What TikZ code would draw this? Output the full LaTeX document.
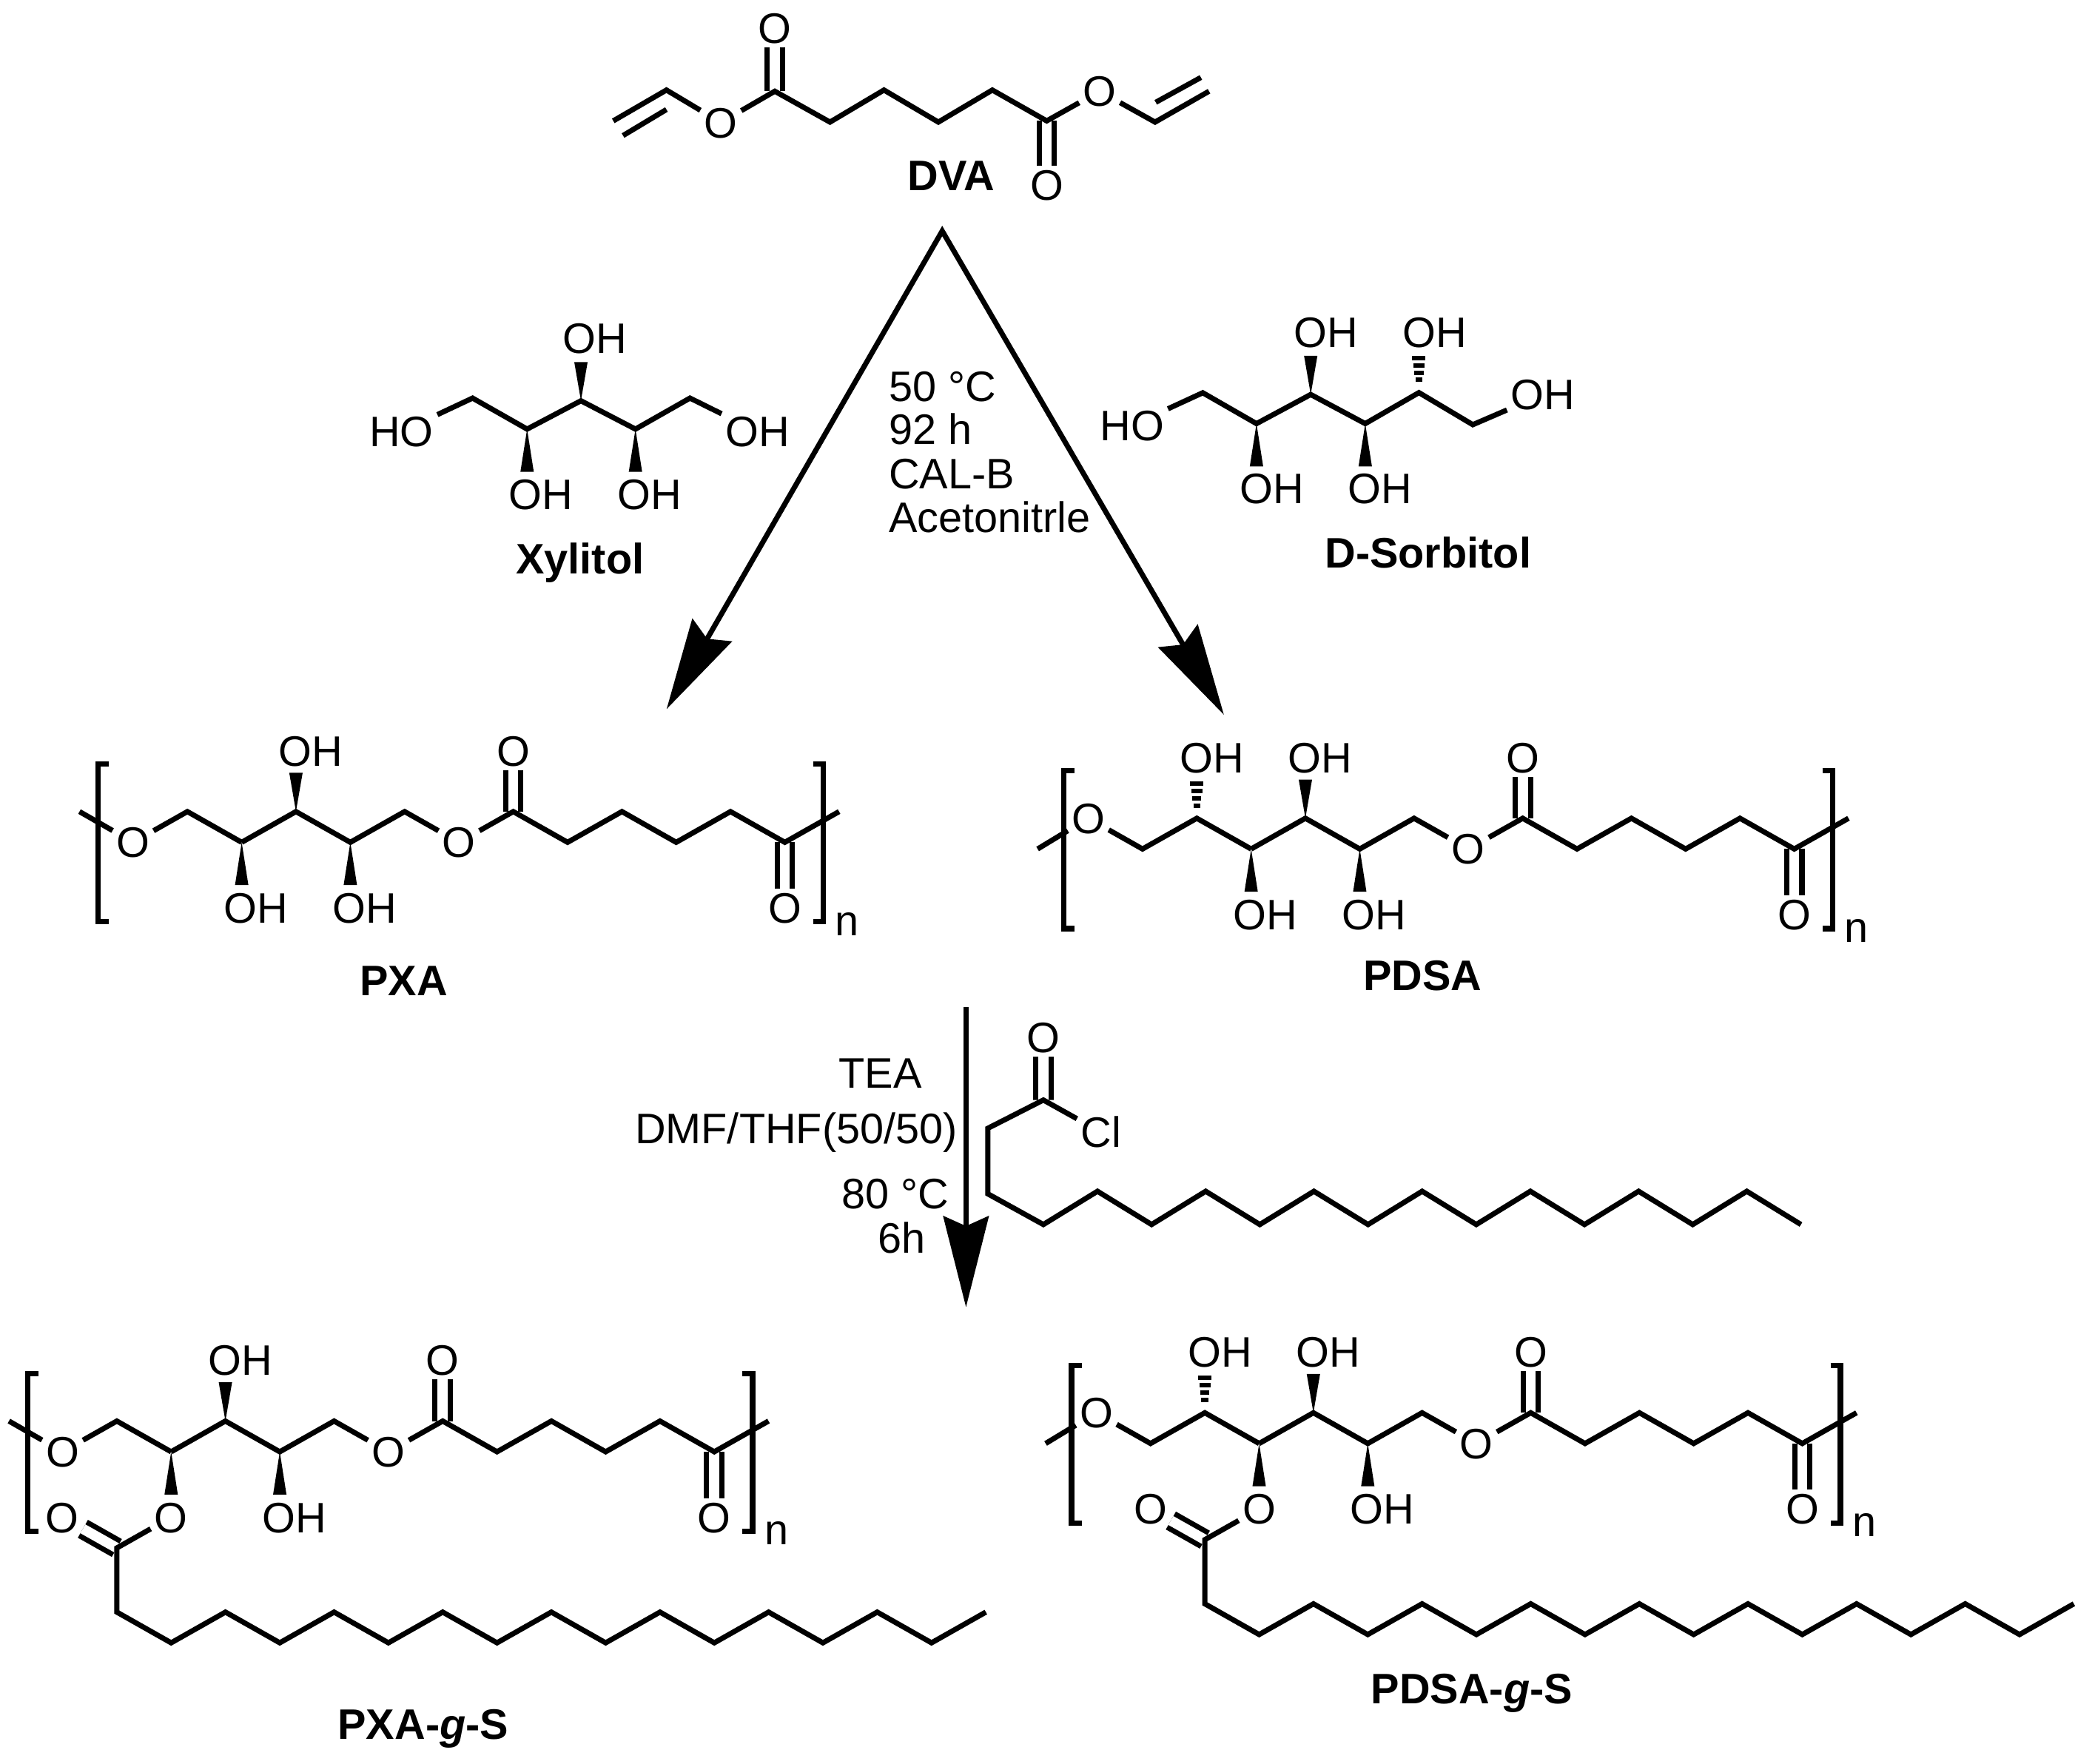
\documentclass[tikz,border=0pt]{standalone}
\usepackage{fontspec}
\setmainfont{Liberation Sans}
\usetikzlibrary{arrows.meta}
\tikzset{
  bond/.style={line width=2pt},
  dbl/.style={line width=2pt,double,double distance=3.9pt},
  brk/.style={line width=2.1pt},
  atom/.style={font=\fontsize{16.4}{18}\selectfont,inner sep=1.3pt,text height=11.7pt,text depth=0pt},
  txt/.style={font=\fontsize{16.4}{18}\selectfont,inner sep=0pt,text height=11.7pt,text depth=0pt},
  ttl/.style={font=\fontsize{16.4}{18}\selectfont\bfseries,inner sep=0pt,text height=11.7pt,text depth=0pt},
  sub/.style={font=\fontsize{16.4}{18}\selectfont,inner sep=0pt},
  rxn/.style={line width=2pt},
  bigtip/.tip={Stealth[length=35pt,width=17.4pt,inset=3.8pt]}
}
\newcommand{\wup}[1]{\fill (#1) -- ++(-5,-29) -- ++(10,0) -- cycle;}
\newcommand{\wdown}[1]{\fill (#1) -- ++(-5,32) -- ++(10,0) -- cycle;}
\newcommand{\hashup}[1]{%
  \draw[line width=1.7pt] (#1) ++(-2.6,-9.6) -- ++(5.2,0);
  \draw[line width=1.7pt] (#1) ++(-3.4,-15) -- ++(6.8,0);
  \draw[line width=1.7pt] (#1) ++(-4.2,-20.5) -- ++(8.4,0);
  \draw[line width=1.7pt] (#1) ++(-5,-26) -- ++(10,0);
}
% common part of a repeat unit, relative to the ester oxygen column
\newcommand{\backbone}{%
  \coordinate (ca) at (-162.6,23);
  \coordinate (cb) at (-122,0);
  \coordinate (cc) at (-81.3,23);
  \coordinate (cd) at (-40.65,0);
  \node[atom] (oe) at (0,23) {O};
  \coordinate (ce) at (40.65,0);
  \coordinate (cf) at (81.3,23);
  \coordinate (cg) at (122,0);
  \coordinate (ch) at (162.6,23);
  \coordinate (ci) at (203.25,0);
  \coordinate (cj) at (243.9,23);
  \coordinate (tail) at (284.5,0);
  \node[atom] (oa) at (40.65,-45.5) {O};
  \node[atom] (ob) at (243.9,72) {O};
  \node[atom] (ohb) at (-111,-45.5) {OH};
  \node[atom] (ohc) at (-70.5,72) {OH};
  \draw[dbl] (ce) -- (oa);
  \draw[dbl] (cj) -- (ob);
  \draw[bond] (ca) -- (cb) -- (cc) -- (cd) -- (oe);
  \draw[bond] (oe) -- (ce) -- (cf) -- (cg) -- (ch) -- (ci) -- (cj) -- (tail);
  \wup{cb}
  \wdown{cc}
  \draw[brk] (265,-35.5) -- (272.5,-35.5) -- (272.5,82.5) -- (265,82.5);
  \node[sub] (nn) at (290.6,84) {n};
}
\newcommand{\xyleft}{%
  \coordinate (cy) at (-203.25,0);
  \node[atom] (os) at (-243.9,23) {O};
  \coordinate (stub) at (-284,0);
  \draw[bond] (ca) -- (cy) -- (os);
  \draw[bond] (stub) -- (os);
  \draw[brk] (-262,-35.5) -- (-270,-35.5) -- (-270,82.5) -- (-262,82.5);
}
\newcommand{\soleft}{%
  \coordinate (cy) at (-203.25,0);
  \coordinate (cz) at (-243.9,23);
  \node[atom] (os) at (-284.5,0) {O};
  \coordinate (stub) at (-322.4,23);
  \node[atom] (ohy) at (-192,-45.5) {OH};
  \draw[bond] (ca) -- (cy) -- (cz) -- (os);
  \draw[bond] (stub) -- (os);
  \hashup{cy}
  \draw[brk] (-295,-35.5) -- (-303,-35.5) -- (-303,82.5) -- (-295,82.5);
}
\newcommand{\ohsub}{%
  \node[atom] (oha) at (-152,72) {OH};
  \wdown{ca}
}
\newcommand{\graft}{%
  \node[atom] (og) at (-162.6,72) {O};
  \node[atom] (ogd) at (-244,72) {O};
  \coordinate (gc) at (-203.25,95);
  \coordinate (gd) at (-203.25,143);
  \wdown{ca}
  \draw[dbl] (gc) -- (ogd);
  \draw[bond] (og) -- (gc) -- (gd) foreach \k in {1,...,8} { -- ++(40.65,23) -- ++(40.65,-23) };
}
\begin{document}
\begin{tikzpicture}[x=.18055mm,y=-.18055mm]
\useasboundingbox (0,0) rectangle (1568,1320);

% ---------- DVA
\coordinate (va) at (459,90.5);
\coordinate (vb) at (498.8,67.4);
\coordinate (vc) at (466.3,101.5);
\coordinate (vd) at (498.8,82);
\node[atom] (do1) at (539.5,91.7) {O};
\coordinate (dc1) at (579.9,68.3);
\node[atom] (do2) at (579.9,21.2) {O};
\coordinate (dc2) at (621.2,91.4);
\coordinate (dc3) at (661.6,67.4);
\coordinate (dc4) at (702.3,91.4);
\coordinate (dc5) at (742.7,67.4);
\coordinate (dc6) at (783.4,90.5);
\node[atom] (do3) at (783.4,138.5) {O};
\node[atom] (do4) at (823,68.3) {O};
\coordinate (vg) at (864.5,91.4);
\coordinate (vh) at (904.9,68.3);
\coordinate (vi) at (865,76.6);
\coordinate (vj) at (898.8,58);
\draw[dbl] (dc1) -- (do2);
\draw[dbl] (dc6) -- (do3);
\draw[bond] (va) -- (vb) -- (do1);
\draw[bond] (vc) -- (vd);
\draw[bond] (do1) -- (dc1) -- (dc2) -- (dc3) -- (dc4) -- (dc5) -- (dc6) -- (do4);
\draw[bond] (do4) -- (vg) -- (vh);
\draw[bond] (vi) -- (vj);
\node[ttl] (dva) at (711.8,131) {DVA};

% ---------- Xylitol
\node[atom] (xho) at (300.5,323) {HO};
\coordinate (x1) at (353.7,298);
\coordinate (x2) at (394.5,321.2);
\coordinate (x3) at (434.8,300);
\coordinate (x4) at (475.6,321.2);
\coordinate (x5) at (516.4,298);
\node[atom] (xoh) at (566.9,323) {OH};
\node[atom] (xo3) at (445.2,252.9) {OH};
\node[atom] (xo2) at (404.9,370) {OH};
\node[atom] (xo4) at (486,370) {OH};
\draw[bond] (xho) -- (x1) -- (x2) -- (x3) -- (x4) -- (x5) -- (xoh);
\wup{x3}
\wdown{x2}
\wdown{x4}
\node[ttl] (xyl) at (434.1,418) {Xylitol};

% ---------- D-Sorbitol
\node[atom] (sho) at (847.3,318.4) {HO};
\coordinate (s1) at (900.2,294);
\coordinate (s2) at (940.4,317.1);
\coordinate (s3) at (981,295.3);
\coordinate (s4) at (1021.8,317.1);
\coordinate (s5) at (1062,293.9);
\coordinate (s6) at (1102.3,317.9);
\node[atom] (soh) at (1154.7,295.3) {OH};
\node[atom] (so2) at (952,365.5) {OH};
\node[atom] (so3) at (992.3,248.6) {OH};
\node[atom] (so4) at (1033,365.5) {OH};
\node[atom] (so5) at (1073.6,248.6) {OH};
\draw[bond] (sho) -- (s1) -- (s2) -- (s3) -- (s4) -- (s5) -- (s6) -- (soh);
\wdown{s2}
\wup{s3}
\wdown{s4}
\hashup{s5}
\node[ttl] (sor) at (1068.8,413.5) {D-Sorbitol};

% ---------- first reaction arrows
\coordinate (apex) at (705.2,172.9);
\coordinate (tipl) at (498.9,530.8);
\coordinate (tipr) at (916,535);
\draw[rxn,bigtip-bigtip] (tipl) -- (apex) -- (tipr);
\node[txt,anchor=west] (r1) at (665,289) {50 °C};
\node[txt,anchor=west] (r2) at (665,321) {92 h};
\node[txt,anchor=west] (r3) at (665,354.7) {CAL-B};
\node[txt,anchor=west] (r4) at (665,386.9) {Acetonitrle};

% ---------- polymers
\begin{scope}[shift={(343.5,607.5)},name prefix=pxa-]
  \backbone \xyleft \ohsub
\end{scope}
\node[ttl] (pxa) at (302.2,733.9) {PXA};

\begin{scope}[shift={(1099,612.5)},name prefix=pdsa-]
  \backbone \soleft \ohsub
\end{scope}
\node[ttl] (pdsa) at (1064.6,730) {PDSA};

% ---------- second reaction
\coordinate (dtop) at (723,754);
\coordinate (dtip) at (723,978.5);
\draw[rxn,-bigtip] (dtop) -- (dtip);
\node[txt] (t1) at (658.8,803) {TEA};
\node[txt] (t2) at (595.9,844.7) {DMF/THF(50/50)};
\node[txt] (t3) at (670,893.6) {80 °C};
\node[txt] (t4) at (675,926.8) {6h};

% ---------- stearoyl chloride
\node[atom] (rcl) at (824,847.4) {Cl};
\node[atom] (ro) at (781,776.7) {O};
\coordinate (rc) at (780.9,823.4);
\coordinate (rd) at (739.3,844.6);
\coordinate (re) at (739.3,893.6);
\coordinate (rf) at (780.9,916.6);
\draw[dbl] (rc) -- (ro);
\draw[bond] (rcl) -- (rc) -- (rd) -- (re) -- (rf) foreach \k in {1,...,7} { -- ++(40.5,-24.9) -- ++(40.5,24.9) };

% ---------- grafted polymers
\begin{scope}[shift={(290.7,1063.7)},name prefix=pxg-]
  \backbone \xyleft \graft
\end{scope}
\node[ttl] (pxg) at (316.7,1290.4) {PXA-{\itshape g}-S};

\begin{scope}[shift={(1105,1057.5)},name prefix=pdg-]
  \backbone \soleft \graft
\end{scope}
\node[ttl] (pdg) at (1101.6,1263.9) {PDSA-{\itshape g}-S};
\end{tikzpicture}
\end{document}
